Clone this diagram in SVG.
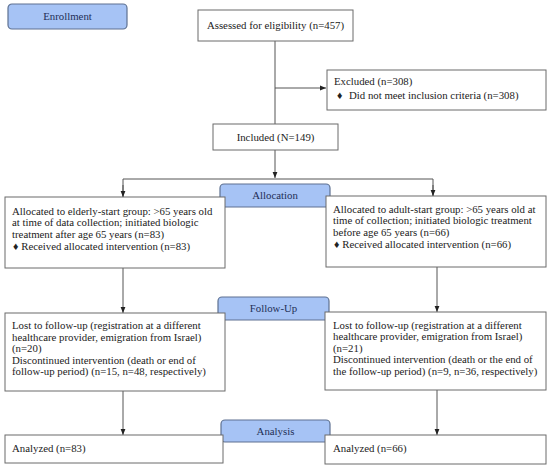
<svg xmlns="http://www.w3.org/2000/svg" width="550" height="468" viewBox="0 0 550 468" font-family="'Liberation Serif', 'Times New Roman', serif">
<defs>
<style>
.box{fill:#fff;stroke:#6b6b6b;stroke-width:1}
.stage{fill:#a6c3f5;stroke:#5e7191;stroke-width:1.2}
text{font-family:'Liberation Serif','Times New Roman',serif;font-size:10.8px;fill:#222}
.st{fill:#1f2f55;text-anchor:middle}
.c{text-anchor:middle}
.ln{stroke:#555;stroke-width:1;fill:none}
</style>
<marker id="ah" viewBox="0 0 10 10" refX="10" refY="5" markerWidth="6" markerHeight="6" orient="auto">
<path d="M0,1 L10,5 L0,9 Z" fill="#222"/>
</marker>
</defs>
<rect width="550" height="468" fill="#fff"/>
<g id="connectors">
<line class="ln" x1="275" y1="41" x2="275" y2="124"/>
<line class="ln" x1="275" y1="88" x2="326" y2="88" marker-end="url(#ah)"/>
<line class="ln" x1="275" y1="150" x2="275" y2="178" marker-end="url(#ah)"/>
<polyline class="ln" points="123,197 123,179 433,179 433,196"/>
<line class="ln" x1="123" y1="185" x2="123" y2="197" marker-end="url(#ah)"/>
<line class="ln" x1="433" y1="185" x2="433" y2="196" marker-end="url(#ah)"/>
<line class="ln" x1="123" y1="268" x2="123" y2="313" marker-end="url(#ah)"/>
<line class="ln" x1="437" y1="267" x2="437" y2="312" marker-end="url(#ah)"/>
<line class="ln" x1="123" y1="391" x2="123" y2="435" marker-end="url(#ah)"/>
<line class="ln" x1="437" y1="390" x2="437" y2="435" marker-end="url(#ah)"/>
</g>
<g id="enrollment">
<rect class="stage" x="8" y="4" width="119" height="25" rx="4"/>
<text class="st" x="67.5" y="19.5">Enrollment</text>
</g>
<g id="assessed">
<rect class="box" x="198" y="10" width="155" height="31"/>
<text class="c" x="275.5" y="29">Assessed for eligibility (n=457)</text>
</g>
<g id="excluded">
<rect class="box" x="327" y="70" width="219" height="40"/>
<text x="334" y="85">Excluded (n=308)</text>
<text x="337" y="98.5">♦</text>
<text x="349" y="98.5">Did not meet inclusion criteria (n=308)</text>
</g>
<g id="included">
<rect class="box" x="213" y="124" width="125" height="26"/>
<text class="c" x="275.5" y="140.5">Included (N=149)</text>
</g>
<g id="allocation">
<rect class="stage" x="220" y="184" width="110" height="23" rx="4"/>
<text class="st" x="275" y="199">Allocation</text>
</g>
<g id="alloc-left">
<rect class="box" x="5" y="197" width="220" height="71"/>
<text x="12" y="214.5">Allocated to elderly-start group: &gt;65 years old</text>
<text x="12" y="226">at time of data collection; initiated biologic</text>
<text x="12" y="237.5">treatment after age 65 years (n=83)</text>
<text x="13" y="249.5">♦ Received allocated intervention (n=83)</text>
</g>
<g id="alloc-right">
<rect class="box" x="326" y="196" width="220" height="71"/>
<text x="333" y="212.5">Allocated to adult-start group: &gt;65 years old at</text>
<text x="333" y="224">time of collection; initiated biologic treatment</text>
<text x="333" y="235.5">before age 65 years (n=66)</text>
<text x="334" y="247.5">♦ Received allocated intervention (n=66)</text>
</g>
<g id="followup">
<rect class="stage" x="218" y="297" width="111" height="23" rx="4"/>
<text class="st" x="273.5" y="312">Follow-Up</text>
</g>
<g id="follow-left">
<rect class="box" x="5" y="313" width="220" height="78"/>
<text x="12" y="329">Lost to follow-up (registration at a different</text>
<text x="12" y="340.5">healthcare provider, emigration from Israel)</text>
<text x="12" y="352">(n=20)</text>
<text x="12" y="363.5">Discontinued intervention (death or end of</text>
<text x="12" y="375">follow-up period) (n=15, n=48, respectively)</text>
</g>
<g id="follow-right">
<rect class="box" x="325" y="312" width="221" height="78"/>
<text x="333" y="328.5">Lost to follow-up (registration at a different</text>
<text x="333" y="340">healthcare provider, emigration from Israel)</text>
<text x="333" y="351.5">(n=21)</text>
<text x="333" y="363">Discontinued intervention (death or the end of</text>
<text x="333" y="374.5">the follow-up period) (n=9, n=36, respectively)</text>
</g>
<g id="analysis">
<rect class="stage" x="221" y="420" width="109" height="22" rx="4"/>
<text class="st" x="275.5" y="434.5">Analysis</text>
</g>
<g id="analyzed-left">
<rect class="box" x="5" y="435" width="218" height="28"/>
<text x="12" y="451.5">Analyzed (n=83)</text>
</g>
<g id="analyzed-right">
<rect class="box" x="325" y="435" width="221" height="29"/>
<text x="333" y="451.5">Analyzed (n=66)</text>
</g>
</svg>
